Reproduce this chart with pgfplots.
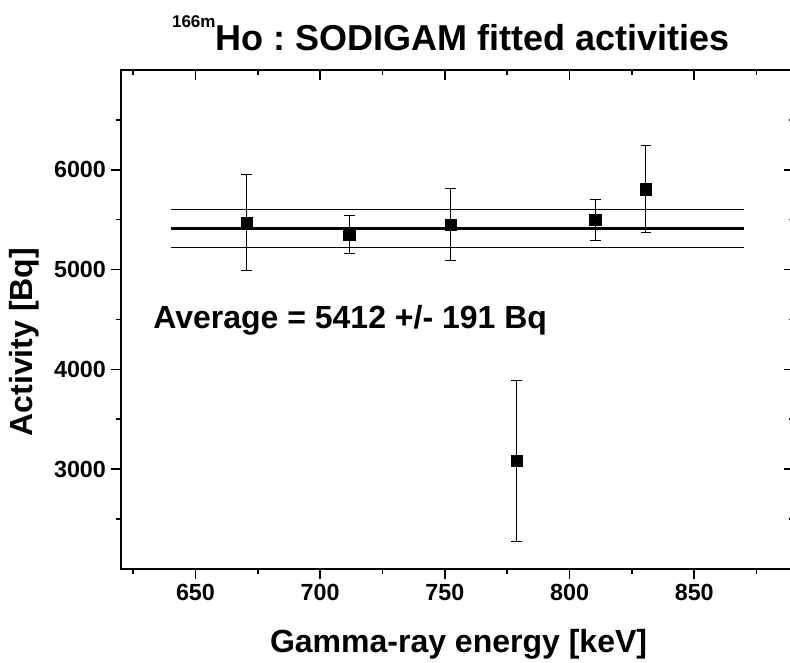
\documentclass[border=0pt]{standalone}
\usepackage{fontspec}
\setmainfont{Liberation Sans}
\usepackage{pgfplots}
\pgfplotsset{compat=1.18}
\frenchspacing
\begin{document}
\begin{tikzpicture}
\pgfplotsset{
 common/.style={
  scale only axis, width=505pt, height=374.25pt,
  xmin=620, xmax=890, ymin=2000, ymax=7000,
  xtick={650,700,750,800,850}, minor xtick={625,675,725,775,825,875},
  ytick={3000,4000,5000,6000}, minor ytick={2500,3500,4500,5500,6500},
  axis line style={line width=1.5pt},
  major tick length=7.5pt, minor tick length=3.75pt,
  every tick/.style={black, line width=1.2pt},
  clip=false,
 }}
\begin{axis}[common, tick align=outside, xtick pos=left, ytick pos=left,
 ticklabel style={font=\bfseries\fontsize{17.5}{19}\selectfont},
 /pgf/number format/assume math mode=true,
 /pgf/number format/set thousands separator={},
 ]
\addplot[black, line width=0.75pt] coordinates {(640,5603) (870,5603)};
\addplot[black, line width=0.75pt] coordinates {(640,5221) (870,5221)};
\addplot[black, line width=2.5pt] coordinates {(640,5412) (870,5412)};
\addplot[only marks, mark=square*, mark size=4.25pt, black,
  error bars/.cd, y dir=both, y explicit,
  error bar style={line width=0.75pt},
  error mark options={rotate=90, mark size=4pt, line width=0.75pt}]
 table[x=x, y=y, y error=e] {
 x y e
 670.5 5470 478
 711.7 5355 190
 752.3 5450 362
 778.8 3085 808
 810.3 5497 204
 830.6 5806 437
 };
\node[anchor=base, inner sep=0pt, font=\bfseries\fontsize{24}{28}\selectfont] at (axis cs:755.5,1162) {Gamma-ray energy [keV]};
\node[anchor=base, rotate=90, inner sep=0pt, font=\bfseries\fontsize{24}{28}\selectfont] at (axis cs:584.8,4273) {Activity [Bq]};
\node[anchor=base west, inner sep=0pt, font=\bfseries\fontsize{24}{28}\selectfont] at (axis cs:633,4406) {Average = 5412 +/- 191 Bq};
\node[anchor=base, inner sep=0pt, font=\bfseries\fontsize{27}{30}\selectfont] at (axis cs:752.4,7199) {\raisebox{16.9pt}{\fontsize{12.75}{14}\selectfont 166m}Ho : SODIGAM fitted activities};
\end{axis}
\begin{axis}[common, tick align=inside, xtick pos=right, ytick pos=right, xticklabels={}, yticklabels={}]
\end{axis}
\pgfresetboundingbox
\path[use as bounding box] ([xshift=-90.5pt,yshift=-69.75pt]current axis.south west) rectangle ([xshift=-3pt,yshift=52.5pt]current axis.north east);
\end{tikzpicture}
\end{document}
